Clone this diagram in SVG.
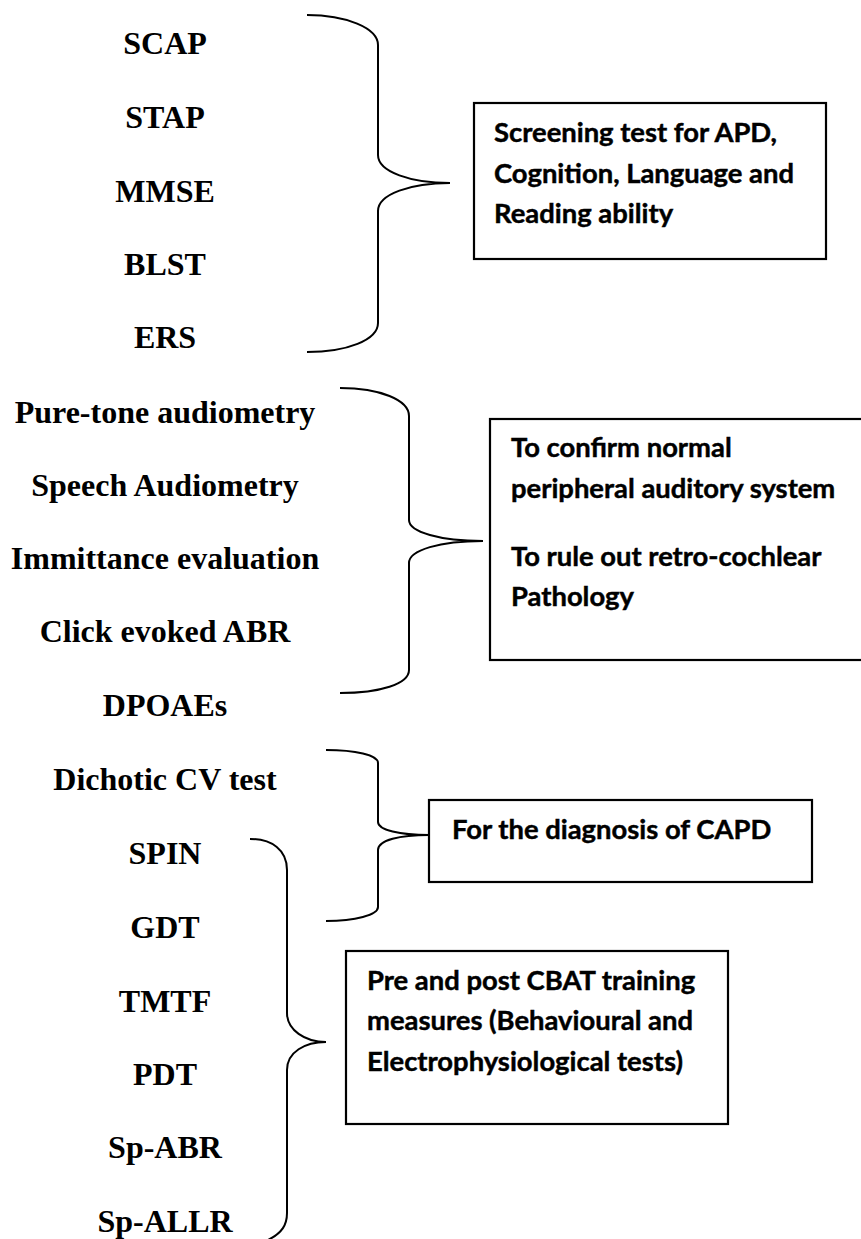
<svg xmlns="http://www.w3.org/2000/svg" width="861" height="1239" viewBox="0 0 861 1239">
<style>
.t{font-family:"Liberation Serif","Times New Roman",serif;font-weight:bold;font-size:32px;fill:#000;text-anchor:middle}
.b{font-family:Lato,"Open Sans",sans-serif;font-weight:bold;font-size:27.4px;fill:#000;stroke:#000;stroke-width:0.45}
.box{fill:#fff;stroke:#000;stroke-width:2.2}
.br{fill:none;stroke:#000;stroke-width:2}
</style>
<rect width="861" height="1239" fill="#fff"/>
<g id="tests">
<text class="t" x="165" y="54">SCAP</text>
<text class="t" x="165" y="128">STAP</text>
<text class="t" x="165" y="202">MMSE</text>
<text class="t" x="165" y="275">BLST</text>
<text class="t" x="165" y="348">ERS</text>
<text class="t" x="165" y="423">Pure-tone audiometry</text>
<text class="t" x="165" y="496">Speech Audiometry</text>
<text class="t" x="165" y="569">Immittance evaluation</text>
<text class="t" x="165" y="642">Click evoked ABR</text>
<text class="t" x="165" y="716">DPOAEs</text>
<text class="t" x="165" y="790">Dichotic CV test</text>
<text class="t" x="165" y="864">SPIN</text>
<text class="t" x="165" y="938">GDT</text>
<text class="t" x="165" y="1012">TMTF</text>
<text class="t" x="165" y="1085">PDT</text>
<text class="t" x="165" y="1158">Sp-ABR</text>
<text class="t" x="165" y="1232">Sp-ALLR</text>
</g>
<g id="connectors">
<path class="br" d="M307,15 C346,15 378,28 378,45 L378,155 C378,172 411,183 450,183 C411,183 378,194 378,211 L378,323 C378,340 347,352 307,352"/>
<path class="br" d="M340,388 C380,388 409,400 409,416 L409,520 C409,532 440,541 483,541 C440,541 409,550 409,563 L409,670 C409,684 380,693 340,693"/>
<path class="br" d="M326,750 C355,750 378,755 378,763 L378,822 C378,830 400,835 429,835 C400,835 378,840 378,850 L378,907 C378,915 355,921 326,921"/>
<path class="br" d="M250,839 C272,839 287,850 287,870 L287,1013 C287,1030 305,1042 326,1042 C305,1042 287,1052 287,1070 L287,1213 C287,1225 282,1233 268,1240"/>
</g>
<g id="box1">
<rect class="box" x="474" y="103" width="352" height="156"/>
<text class="b" x="494" y="142">Screening test for APD,</text>
<text class="b" x="494" y="183">Cognition, Language and</text>
<text class="b" x="494" y="223">Reading ability</text>
</g>
<g id="box2">
<rect class="box" x="490" y="419" width="380" height="241"/>
<text class="b" x="511" y="457">To confirm normal</text>
<text class="b" x="511" y="498">peripheral auditory system</text>
<text class="b" x="511" y="566">To rule out retro-cochlear</text>
<text class="b" x="511" y="606">Pathology</text>
</g>
<g id="box3">
<rect class="box" x="429" y="800" width="383" height="82"/>
<text class="b" x="452" y="839">For the diagnosis of CAPD</text>
</g>
<g id="box4">
<rect class="box" x="346" y="951" width="382" height="173"/>
<text class="b" x="367" y="990">Pre and post CBAT training</text>
<text class="b" x="367" y="1030">measures (Behavioural and</text>
<text class="b" x="367" y="1071">Electrophysiological tests)</text>
</g>
</svg>
